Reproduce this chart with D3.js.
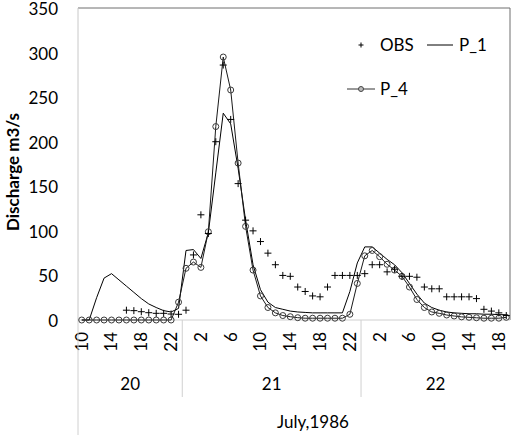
<!DOCTYPE html>
<html>
<head>
<meta charset="utf-8">
<script src="https://cdn.jsdelivr.net/npm/d3@7"></script>
<style>
  body { margin: 0; background: #fff; }
  text { font-family: Lato, "Open Sans", sans-serif; fill: #000; }
</style>
</head>
<body>
<div id="chart"></div>
<script>
// Hourly discharge, 20-22 July 1986

const days = ["20", "21", "22"];
const hoursPerDay = [
  [10, 11, 12, 13, 14, 15, 16, 17, 18, 19, 20, 21, 22, 23],
  [0, 1, 2, 3, 4, 5, 6, 7, 8, 9, 10, 11, 12, 13, 14, 15, 16, 17, 18, 19, 20, 21, 22, 23],
  [0, 1, 2, 3, 4, 5, 6, 7, 8, 9, 10, 11, 12, 13, 14, 15, 16, 17, 18, 19]
];

const obs = [null, null, null, null, null, null, 11, 10.5, 9.3, 8.2, 7.5, 7.5, 6.7, 6.4,
  11, 73, 118, 97, 200, 286, 225, 153, 112, 100, 88, 75, 62, 50, 49, 37, 32, 27, 26, 37, 50, 50, 50, 50,
  52, 62, 62, 54, 57, 49, 49, 48, 37, 35, 35, 26, 26, 26, 26, 24, 12, 10, 8, 5];

const p1 = [0, 0, 25, 47, 52, 45, 38, 31, 24, 18, 14, 10.5, 9, 13,
  78, 79, 69, 98, 165, 232, 220, 170, 112, 62, 34, 20, 14, 12, 10, 9, 8.5, 8, 8, 8, 8, 8, 32, 64,
  82, 82, 75, 68, 62, 53, 41, 29, 19, 14, 11, 9, 8, 7.5, 7, 7, 6.5, 6.5, 6, 6];

const p4 = [0, 0, 0, 0, 0, 0, 0, 0, 0, 0, 0, 0, 0, 20,
  58, 65, 59, 99, 217, 295, 258, 176, 105, 56, 27, 14, 8, 5, 3.7, 2.6, 2, 2, 2, 2, 2, 2, 6.4, 41,
  72, 78, 71, 62.5, 56, 49, 37, 23, 14, 9, 7.5, 5.6, 4.5, 3.5, 3, 2.5, 2, 2, 2, 3];

const yTicks = [0, 50, 100, 150, 200, 250, 300, 350];

// flatten categories
const cats = [];
hoursPerDay.forEach((hs, d) => hs.forEach(h => cats.push({ day: days[d], hour: h, key: days[d] + "-" + h })));

const W = 514, H = 435;
const margin = { top: 8, right: 4, bottom: 115, left: 78 };
const width = W - margin.left - margin.right;
const height = H - margin.top - margin.bottom;

const svg = d3.select("#chart").append("svg")
  .attr("width", W).attr("height", H);

const g = svg.append("g").attr("transform", `translate(${margin.left},${margin.top})`);

const x = d3.scaleBand().domain(cats.map(c => c.key)).range([0, width]).padding(0);
const y = d3.scaleLinear().domain([0, 350]).range([height, 0]);
const cx = i => x(cats[i].key) + x.bandwidth() / 2;

// plot frame
g.append("line").attr("x1", 0).attr("x2", width).attr("y1", 0).attr("y2", 0)
  .attr("stroke", "#6e6e6e");
g.append("line").attr("x1", width).attr("x2", width).attr("y1", 0).attr("y2", height)
  .attr("stroke", "#6e6e6e");
g.append("line").attr("x1", 0).attr("x2", 0).attr("y1", 0).attr("y2", height)
  .attr("stroke", "#c8c8c8");

// y labels
g.append("g").selectAll("text").data(yTicks).join("text")
  .attr("x", -20).attr("y", d => y(d) + 1).attr("dy", "0.35em")
  .attr("text-anchor", "end").attr("font-size", 17)
  .text(d => d);

g.append("text")
  .attr("transform", `translate(${-59},${height / 2 + 8}) rotate(-90)`)
  .attr("text-anchor", "middle").attr("font-size", 17).attr("font-weight", "bold")
  .text("Discharge m3/s");

// x axis line
g.append("line").attr("x1", 0).attr("x2", width).attr("y1", height).attr("y2", height)
  .attr("stroke", "#d0d0d0");

// hour labels, every 4th category
g.append("g").selectAll("text").data(cats.filter((c, i) => i % 4 === 0)).join("text")
  .attr("transform", d => `translate(${x(d.key) + x.bandwidth() / 2},${height + 12}) rotate(-90)`)
  .attr("dy", "0.35em").attr("text-anchor", "end").attr("font-size", 17)
  .text(d => d.hour);

// day groups
let start = 0;
const groups = hoursPerDay.map((hs, d) => {
  const gr = { day: days[d], i0: start, i1: start + hs.length - 1 };
  start += hs.length;
  return gr;
});
groups.forEach((gr, k) => {
  const xl = x(cats[gr.i0].key);
  const xr = x(cats[gr.i1].key) + x.bandwidth();
  g.append("text")
    .attr("x", (xl + xr) / 2).attr("y", height + 70)
    .attr("text-anchor", "middle").attr("font-size", 17)
    .text(gr.day);
  g.append("line").attr("x1", xl).attr("x2", xl)
    .attr("y1", height).attr("y2", k === 0 ? H - margin.top : height + 77)
    .attr("stroke", "#d0d0d0");
});

g.append("text")
  .attr("x", 235).attr("y", height + 108)
  .attr("text-anchor", "middle").attr("font-size", 17)
  .text("July,1986");

// series
const line = d3.line().x((d, i) => cx(i)).y(d => y(d));

g.append("path").datum(p1).attr("d", line)
  .attr("fill", "none").attr("stroke", "#000").attr("stroke-width", 1);

g.append("path").datum(p4).attr("d", line)
  .attr("fill", "none").attr("stroke", "#1a1a1a").attr("stroke-width", 1);

g.append("g").selectAll("circle").data(p4).join("circle")
  .attr("cx", (d, i) => cx(i)).attr("cy", d => y(d)).attr("r", 3)
  .attr("fill", "none").attr("stroke", "#3a3a3a").attr("stroke-width", 1);

const plus = "M-3.5,0H3.5M0,-3.5V3.5";
g.append("g").selectAll("path")
  .data(obs.map((v, i) => ({ v, i })).filter(d => d.v !== null))
  .join("path")
  .attr("transform", d => `translate(${cx(d.i)},${y(d.v)})`)
  .attr("d", plus).attr("stroke", "#000").attr("stroke-width", 1);

// legend
const lg = svg.append("g");
lg.append("path").attr("d", "M-2.5,0H2.5M0,-2.5V2.5")
  .attr("transform", "translate(361,45)").attr("stroke", "#000");
lg.append("text").attr("x", 380).attr("y", 45).attr("dy", "0.35em").attr("font-size", 17).text("OBS");
lg.append("line").attr("x1", 427).attr("x2", 453).attr("y1", 45).attr("y2", 45).attr("stroke", "#000");
lg.append("text").attr("x", 459).attr("y", 45).attr("dy", "0.35em").attr("font-size", 17).text("P_1");
lg.append("line").attr("x1", 347).attr("x2", 375).attr("y1", 89).attr("y2", 89).attr("stroke", "#333");
lg.append("circle").attr("cx", 361).attr("cy", 89).attr("r", 2.5)
  .attr("fill", "#bbb").attr("stroke", "#444");
lg.append("text").attr("x", 380).attr("y", 89).attr("dy", "0.35em").attr("font-size", 17).text("P_4");
</script>
</body>
</html>
